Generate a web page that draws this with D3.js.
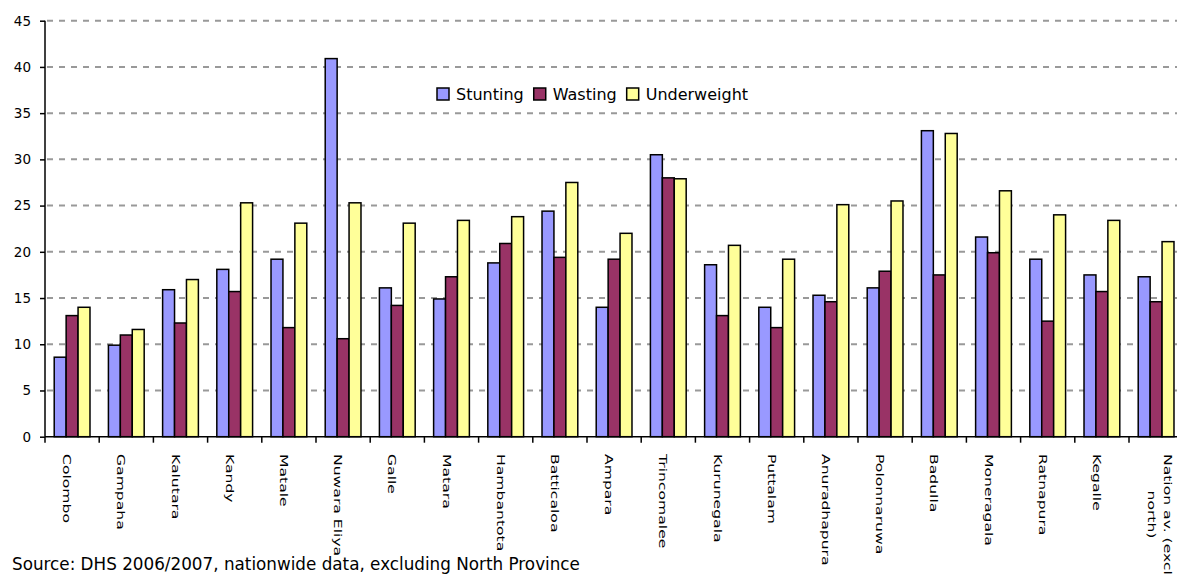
<!DOCTYPE html>
<html>
<head>
<meta charset="utf-8">
<script src="https://cdn.jsdelivr.net/npm/d3@7"></script>
<style>
  html, body { margin: 0; padding: 0; background: #fff; }
  svg { display: block; }
</style>
</head>
<body>
<svg id="chart" width="1177" height="574"></svg>
<script>
// Districts of Sri Lanka (plus the national average)
const districts = [
  "Colombo", "Gampaha", "Kalutara", "Kandy", "Matale", "Nuwara Eliya", "Galle",
  "Matara", "Hambantota", "Batticaloa", "Ampara", "Trincomalee", "Kurunegala",
  "Puttalam", "Anuradhapura", "Polonnaruwa", "Badulla", "Moneragala", "Ratnapura",
  "Kegalle", "Nation av. (excl north)"
];

const seriesNames = ["Stunting", "Wasting", "Underweight"];
const seriesColors = ["#9999ff", "#993366", "#ffff99"];

// Prevalence (%) per district
const stunting = [8.6, 9.9, 15.9, 18.1, 19.2, 40.9, 16.1, 14.9, 18.8, 24.4, 14.0,
                  30.5, 18.6, 14.0, 15.3, 16.1, 33.1, 21.6, 19.2, 17.5, 17.3];
const wasting = [13.1, 11.0, 12.3, 15.7, 11.8, 10.6, 14.2, 17.3, 20.9, 19.4, 19.2,
                 28.0, 13.1, 11.8, 14.6, 17.9, 17.5, 19.9, 12.5, 15.7, 14.6];
const underweight = [14.0, 11.6, 17.0, 25.3, 23.1, 25.3, 23.1, 23.4, 23.8, 27.5, 22.0,
                     27.9, 20.7, 19.2, 25.1, 25.5, 32.8, 26.6, 24.0, 23.4, 21.1];

const yTicks = [0, 5, 10, 15, 20, 25, 30, 35, 40, 45];
const sourceNote = "Source: DHS 2006/2007, nationwide data, excluding North Province";

const seriesValues = [stunting, wasting, underweight];

const svg = d3.select("#chart");
const plotLeft = 45, plotBottom = 436.7, plotTop = 20.7;
const bandW = 54.2;

const x = d3.scaleBand()
  .domain(districts)
  .range([plotLeft, plotLeft + bandW * districts.length])
  .paddingInner(0).paddingOuter(0);

const x1 = d3.scaleBand()
  .domain(seriesNames)
  .range([x.bandwidth() * 0.17, x.bandwidth() * 0.83])
  .padding(0);

const y = d3.scaleLinear().domain([0, 45]).range([plotBottom, plotTop]);

// dashed horizontal gridlines
svg.append("g")
  .selectAll("line")
  .data(yTicks.filter(d => d > 0))
  .join("line")
  .attr("x1", plotLeft + 2)
  .attr("x2", 1177)
  .attr("y1", d => y(d))
  .attr("y2", d => y(d))
  .attr("stroke", "#999999")
  .attr("stroke-width", 2)
  .attr("stroke-dasharray", "6,6");

// grouped bars
const groups = svg.append("g")
  .selectAll("g")
  .data(districts.map((d, i) => ({ name: d, i })))
  .join("g")
  .attr("transform", d => `translate(${x(d.name)},0)`);

groups.selectAll("rect")
  .data(d => seriesNames.map((s, k) => ({ s, k, v: seriesValues[k][d.i] })))
  .join("rect")
  .attr("x", d => x1(d.s))
  .attr("width", x1.bandwidth())
  .attr("y", d => y(d.v))
  .attr("height", d => plotBottom - y(d.v))
  .attr("fill", d => seriesColors[d.k])
  .attr("stroke", "#000")
  .attr("stroke-width", 1.5);

// y axis
const yAxis = d3.axisLeft(y).tickValues(yTicks).tickSize(5).tickPadding(9);
const gy = svg.append("g").attr("transform", `translate(${plotLeft},0)`).call(yAxis);
gy.select(".domain").attr("stroke", "#000").attr("stroke-width", 1.5)
  .attr("d", `M0,${plotTop}V${plotBottom}`);
gy.selectAll(".tick line").attr("stroke", "#000").attr("stroke-width", 1.5);
gy.selectAll(".tick text")
  .attr("font-family", "DejaVu Sans")
  .attr("font-size", 13.5)
  .attr("fill", "#000");

// x axis line with ticks at category boundaries
const gx = svg.append("g");
gx.append("line")
  .attr("x1", plotLeft).attr("x2", 1177)
  .attr("y1", plotBottom).attr("y2", plotBottom)
  .attr("stroke", "#000").attr("stroke-width", 1.5);
gx.selectAll("line.tk")
  .data(districts)
  .join("line")
  .attr("class", "tk")
  .attr("x1", d => x(d) + x.bandwidth())
  .attr("x2", d => x(d) + x.bandwidth())
  .attr("y1", plotBottom)
  .attr("y2", plotBottom + 6)
  .attr("stroke", "#000").attr("stroke-width", 1.5);
gx.append("line")
  .attr("x1", plotLeft).attr("x2", plotLeft)
  .attr("y1", plotBottom).attr("y2", plotBottom + 6)
  .attr("stroke", "#000").attr("stroke-width", 1.5);

// rotated category labels (reading downwards)
const labelTop = 454;
const stretch = 1.42;
const labels = svg.append("g")
  .attr("font-family", "DejaVu Sans")
  .attr("font-size", 11)
  .attr("fill", "#000");

districts.forEach(name => {
  const cx = x(name) + x.bandwidth() / 2;
  const parts = name === "Nation av. (excl north)" ? ["Nation av. (excl", "north)"] : [name];
  if (parts.length === 1) {
    labels.append("text")
      .attr("transform", `translate(${cx - 9},${labelTop}) rotate(90) scale(${stretch},1)`)
      .text(name);
  } else {
    const t1 = labels.append("text")
      .attr("transform", `translate(${cx + 8},${labelTop}) rotate(90) scale(${stretch},1)`)
      .text(parts[0]);
    const len = t1.node().getComputedTextLength();
    labels.append("text")
      .attr("transform", `translate(${cx - 8},${labelTop + len * stretch / 2}) rotate(90) scale(${stretch},1)`)
      .attr("text-anchor", "middle")
      .text(parts[1]);
  }
});

// legend
const legend = svg.append("g")
  .attr("font-family", "DejaVu Sans")
  .attr("font-size", 16);
let lx = 437;
seriesNames.forEach((s, k) => {
  legend.append("rect")
    .attr("x", lx).attr("y", 88)
    .attr("width", 12).attr("height", 12)
    .attr("fill", seriesColors[k])
    .attr("stroke", "#000").attr("stroke-width", 1.5);
  const t = legend.append("text")
    .attr("x", lx + 19).attr("y", 99.5)
    .attr("fill", "#000")
    .text(s);
  lx += 19 + t.node().getComputedTextLength() + 10;
});

// source note
svg.append("text")
  .attr("x", 12).attr("y", 570)
  .attr("font-family", "DejaVu Sans")
  .attr("font-size", 16.8)
  .attr("fill", "#000")
  .text(sourceNote);
</script>
</body>
</html>
